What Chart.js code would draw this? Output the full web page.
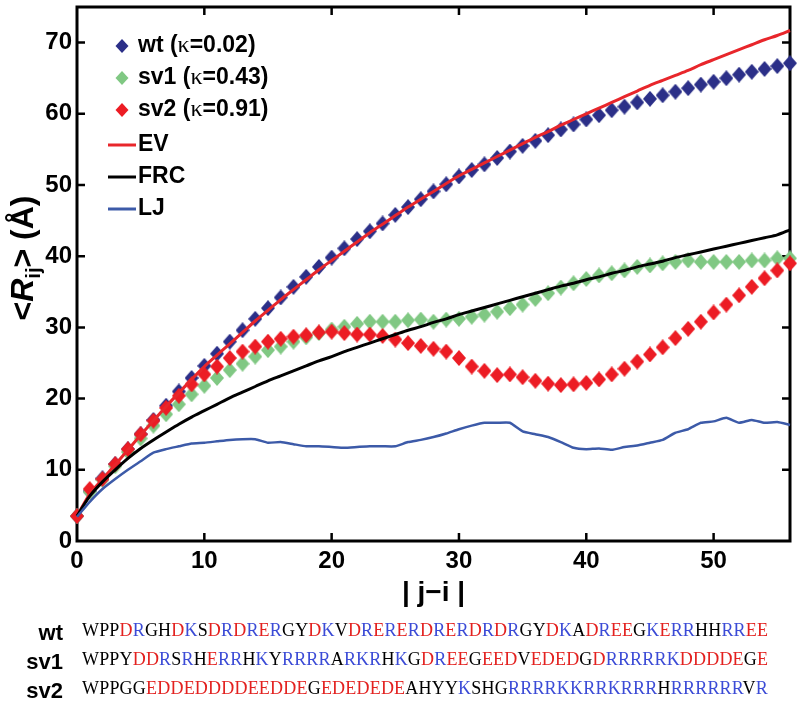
<!DOCTYPE html>
<html>
<head>
<meta charset="utf-8">
<script src="https://cdn.jsdelivr.net/npm/chart.js@4.4.1/dist/chart.umd.min.js"></script>
<style>
  html, body { margin: 0; padding: 0; background: #ffffff; }
  #wrap { position: relative; width: 799px; height: 714px; overflow: hidden; }
  #c { position: absolute; left: 0; top: 0; }
  .row { position: absolute; left: 0; width: 799px; height: 30px; line-height: 30px; white-space: nowrap; }
  .lab { position: absolute; left: 0; width: 63px; text-align: right; font: bold 22px "Liberation Sans", Arial, sans-serif; color: #000; }
  .seq { position: absolute; left: 82px; font: 18px "Liberation Serif", "Times New Roman", serif; color: #000; }
  .neg { color: #e3211f; }
  .pos { color: #3b4bd6; }
</style>
</head>
<body>
<div id="wrap">
  <canvas id="c" width="799" height="714"></canvas>
  <div class="row" id="r0" style="top:620px"></div>
  <div class="row" id="r1" style="top:649px"></div>
  <div class="row" id="r2" style="top:678px"></div>
</div>
<script>
// ---------- data ----------
const X = [0,1,2,3,4,5,6,7,8,9,10,11,12,13,14,15,16,17,18,19,20,21,22,23,24,25,26,27,28,29,30,31,32,33,34,35,36,37,38,39,40,41,42,43,44,45,46,47,48,49,50,51,52,53,54,55,56];

const WT = [3.5,7.0,8.8,10.8,12.9,15.0,17.0,19.0,21.0,22.9,24.6,26.3,28.0,29.6,31.2,32.7,34.2,35.7,37.1,38.5,39.8,41.1,42.4,43.5,44.6,45.8,46.9,48.0,49.1,50.1,51.2,52.1,52.9,53.8,54.7,55.5,56.2,57.0,57.8,58.5,59.2,59.8,60.5,61.0,61.6,62.1,62.6,63.1,63.6,64.1,64.5,65.0,65.5,65.9,66.3,66.7,67.1];

const SV1 = [3.5,6.9,8.6,10.5,12.5,14.4,16.2,17.8,19.2,20.6,21.8,22.9,24.0,24.9,25.9,26.8,27.3,28.0,28.6,29.2,29.7,30.1,30.5,30.8,30.8,30.8,31.0,31.1,30.8,31.1,31.2,31.5,31.8,32.2,32.7,33.2,34.0,34.8,35.6,36.2,36.8,37.3,37.6,38.0,38.5,38.7,39.0,39.2,39.4,39.2,39.2,39.2,39.2,39.4,39.4,39.7,39.7];

const SV2 = [3.5,7.3,8.7,10.8,12.9,15.0,16.9,18.7,20.4,22.0,23.4,24.5,25.7,26.6,27.3,28.0,28.4,28.7,28.9,29.3,29.4,29.2,29.0,29.0,28.8,28.3,27.8,27.4,27.0,26.6,25.7,24.5,23.9,23.3,23.4,23.0,22.5,22.1,21.9,22.0,22.2,22.7,23.4,24.2,25.2,26.2,27.2,28.5,29.8,30.8,32.1,33.2,34.5,35.7,36.9,38.0,39.0];

const EV = [3.5,6.6,8.7,10.7,12.8,14.9,16.9,18.9,20.8,22.7,24.5,26.1,27.7,29.3,30.9,32.4,33.9,35.3,36.7,38.1,39.4,40.7,42.0,43.3,44.5,45.7,46.9,48.0,49.1,50.2,51.3,52.2,53.1,54.0,54.9,55.8,56.7,57.5,58.4,59.2,60.0,60.8,61.6,62.4,63.2,64.0,64.7,65.4,66.1,66.9,67.6,68.3,69.0,69.7,70.4,71.0,71.7];

const FRC = [3.5,6.3,8.3,10.0,11.6,13.0,14.2,15.3,16.4,17.4,18.3,19.2,20.1,20.9,21.7,22.5,23.2,23.9,24.6,25.3,25.9,26.6,27.2,27.8,28.4,29.0,29.6,30.1,30.7,31.2,31.8,32.3,32.8,33.3,33.8,34.3,34.8,35.3,35.8,36.2,36.7,37.1,37.6,38.0,38.5,38.9,39.3,39.8,40.2,40.6,41.0,41.4,41.8,42.2,42.6,43.0,43.7];

const LJ = [3.4,5.5,7.3,8.7,10.0,11.2,12.4,12.9,13.3,13.7,13.8,14.0,14.2,14.3,14.3,13.8,13.9,13.6,13.3,13.3,13.2,13.1,13.2,13.3,13.3,13.3,13.9,14.2,14.6,15.1,15.7,16.2,16.6,16.6,16.6,15.4,15.0,14.6,13.9,13.1,12.9,13.0,12.8,13.2,13.4,13.8,14.2,15.2,15.7,16.6,16.8,17.3,16.6,17.0,16.6,16.7,16.3];

const X_TICKS = [0,10,20,30,40,50];
const Y_TICKS = [0,10,20,30,40,50,60,70];

const LEGEND_MARKERS = [
  { name: 'wt',  kappa: '0.02' },
  { name: 'sv1', kappa: '0.43' },
  { name: 'sv2', kappa: '0.91' }
];
const LEGEND_LINES = ['EV', 'FRC', 'LJ'];

const SEQ_NAMES = ['wt', 'sv1', 'sv2'];
const SEQ_WT  = 'WPPDRGHDKSDRDRERGYDKVDRERERDRERDRDRGYDKADREEGKERRHHRREE';
const SEQ_SV1 = 'WPPYDDRSRHERRHKYRRRRARKRHKGDREEGEEDVEDEDGDRRRRRKDDDDEGE';
const SEQ_SV2 = 'WPPGGEDDEDDDDEEDDEGEDEDEDEAHYYKSHGRRRRKKRRKRRRHRRRRRRVR';

// ---------- styles ----------
const C_WT = '#2b2f88';
const C_SV1 = '#80c883';
const C_SV2 = '#ec1c24';
const C_EV = '#e8262b';
const C_FRC = '#000000';
const C_LJ = '#3c5aa8';
const SANS = '"Liberation Sans", Arial, Helvetica, sans-serif';
const SERIF = '"Liberation Serif", "Times New Roman", serif';

function diamond(color, w, h) {
  const cv = document.createElement('canvas');
  cv.width = w; cv.height = h;
  const g = cv.getContext('2d');
  g.fillStyle = color;
  g.beginPath();
  g.moveTo(w / 2, 0); g.lineTo(w, h / 2); g.lineTo(w / 2, h); g.lineTo(0, h / 2);
  g.closePath(); g.fill();
  return cv;
}
const DW = 14, DH = 16;

const pts = arr => X.map((x, i) => ({ x: x, y: arr[i] }));

const markerDs = (label, arr, color, order) => ({
  label, data: pts(arr), showLine: false, pointStyle: diamond(color, DW, DH), pointRadius: 7,
  pointBackgroundColor: color, pointBorderColor: color, pointBorderWidth: 0,
  pointHoverRadius: 7, order, clip: false
});
const lineDs = (label, arr, color, width, order, tension) => ({
  label, data: pts(arr), borderColor: color, borderWidth: width, pointRadius: 0,
  pointHoverRadius: 0, tension: tension, fill: false, order, clip: false, borderJoinStyle: 'round'
});

// ---------- plugins ----------
const frame = {
  id: 'frame',
  beforeDatasetsDraw(chart) {
    const { ctx, chartArea: a, scales: { x, y } } = chart;
    ctx.save();
    ctx.strokeStyle = '#000';
    ctx.lineWidth = 3;
    ctx.strokeRect(a.left, a.top, a.right - a.left, a.bottom - a.top);
    ctx.lineWidth = 2.5;
    ctx.beginPath();
    X_TICKS.forEach(v => {
      if (v === 0) return;
      const p = x.getPixelForValue(v);
      ctx.moveTo(p, a.bottom); ctx.lineTo(p, a.bottom - 8);
      ctx.moveTo(p, a.top); ctx.lineTo(p, a.top + 8);
    });
    Y_TICKS.forEach(v => {
      if (v === 0) return;
      const p = y.getPixelForValue(v);
      ctx.moveTo(a.left, p); ctx.lineTo(a.left + 8, p);
      ctx.moveTo(a.right, p); ctx.lineTo(a.right - 8, p);
    });
    ctx.stroke();
    ctx.restore();
  },
  afterDraw(chart) {
    const { ctx, chartArea: a } = chart;
    ctx.save();
    ctx.fillStyle = '#000';
    // x title
    ctx.font = 'bold 28px ' + SANS;
    ctx.textAlign = 'center';
    ctx.textBaseline = 'middle';
    ctx.fillText('| j\u2212i |', (a.left + a.right) / 2, 593);

    // y title (rotated) with subscript
    ctx.translate(24, 258);
    ctx.rotate(-Math.PI / 2);
    const parts = [
      { t: '<', f: 'bold 32px ' + SANS, dy: 0 },
      { t: 'R', f: 'italic bold 32px ' + SANS, dy: 0 },
      { t: 'ij', f: 'bold 20px ' + SANS, dy: 10 },
      { t: '>', f: 'bold 32px ' + SANS, dy: 0 },
      { t: ' (\u00C5)', f: 'bold 32px ' + SANS, dy: 0 }
    ];
    let total = 0;
    parts.forEach(p => { ctx.font = p.f; p.w = ctx.measureText(p.t).width; total += p.w; });
    let cx = -total / 2;
    ctx.textAlign = 'left';
    parts.forEach(p => { ctx.font = p.f; ctx.fillText(p.t, cx, p.dy); cx += p.w; });
    ctx.restore();

    // legend
    ctx.save();
    ctx.textBaseline = 'middle';
    ctx.textAlign = 'left';
    const mColors = [C_WT, C_SV1, C_SV2];
    const mRows = [46, 78, 110];
    LEGEND_MARKERS.forEach((m, i) => {
      const cy = mRows[i];
      ctx.fillStyle = mColors[i];
      ctx.beginPath();
      ctx.moveTo(122, cy - 7); ctx.lineTo(128.5, cy); ctx.lineTo(122, cy + 7); ctx.lineTo(115.5, cy);
      ctx.closePath(); ctx.fill();
      ctx.fillStyle = '#000';
      let tx = 138;
      const segs = [
        { t: m.name + ' (', f: 'bold 23px ' + SANS },
        { t: '\u03BA', f: '24px ' + SERIF },
        { t: '=' + m.kappa + ')', f: 'bold 23px ' + SANS }
      ];
      segs.forEach(s => { ctx.font = s.f; ctx.fillText(s.t, tx, cy); tx += ctx.measureText(s.t).width; });
    });
    const lColors = [C_EV, C_FRC, C_LJ];
    const lRows = [145, 177, 209];
    LEGEND_LINES.forEach((name, i) => {
      const cy = lRows[i];
      ctx.strokeStyle = lColors[i];
      ctx.lineWidth = 3;
      ctx.beginPath(); ctx.moveTo(108, cy); ctx.lineTo(136, cy); ctx.stroke();
      ctx.fillStyle = '#000';
      ctx.font = 'bold 23px ' + SANS;
      ctx.fillText(name, 138, cy);
    });
    ctx.restore();
  }
};

// ---------- chart ----------
const tickFont = { family: SANS, size: 24, weight: 'bold' };
new Chart(document.getElementById('c').getContext('2d'), {
  type: 'line',
  data: {
    datasets: [
      lineDs('LJ', LJ, C_LJ, 2.5, 0, 0.15),
      lineDs('FRC', FRC, C_FRC, 3, 1, 0.3),
      lineDs('EV', EV, C_EV, 3, 2, 0.3),
      markerDs('sv2 (\u03BA=0.91)', SV2, C_SV2, 3),
      markerDs('sv1 (\u03BA=0.43)', SV1, C_SV1, 4),
      markerDs('wt (\u03BA=0.02)', WT, C_WT, 5)
    ]
  },
  options: {
    responsive: false,
    animation: false,
    events: [],
    layout: { padding: { left: 0, right: 9, top: 3, bottom: 0 } },
    plugins: { legend: { display: false }, tooltip: { enabled: false } },
    scales: {
      x: {
        type: 'linear', min: 0, max: 56,
        grid: { display: false, drawTicks: false }, border: { display: false },
        ticks: { stepSize: 10, includeBounds: false, font: tickFont, color: '#000', padding: 6, maxRotation: 0 },
        afterFit(s) { s.height = 173; s.paddingLeft = 0; s.paddingRight = 0; }
      },
      y: {
        type: 'linear', min: 0, max: 75,
        grid: { display: false, drawTicks: false }, border: { display: false },
        ticks: { stepSize: 10, includeBounds: false, font: tickFont, color: '#000', padding: 5 },
        afterFit(s) { s.width = 77; s.paddingTop = 0; s.paddingBottom = 0; }
      }
    }
  },
  plugins: [frame]
});

// ---------- sequences ----------
const seqs = [SEQ_WT, SEQ_SV1, SEQ_SV2];
seqs.forEach((s, i) => {
  const row = document.getElementById('r' + i);
  const lab = document.createElement('span');
  lab.className = 'lab';
  lab.textContent = SEQ_NAMES[i];
  row.appendChild(lab);
  const sp = document.createElement('span');
  sp.className = 'seq';
  let html = '';
  for (const ch of s) {
    if (ch === 'D' || ch === 'E') html += '<span class="neg">' + ch + '</span>';
    else if (ch === 'R' || ch === 'K') html += '<span class="pos">' + ch + '</span>';
    else html += ch;
  }
  sp.innerHTML = html;
  row.appendChild(sp);
  const w = sp.getBoundingClientRect().width;
  sp.style.letterSpacing = ((686 - w) / s.length) + 'px';
});
</script>
</body>
</html>
